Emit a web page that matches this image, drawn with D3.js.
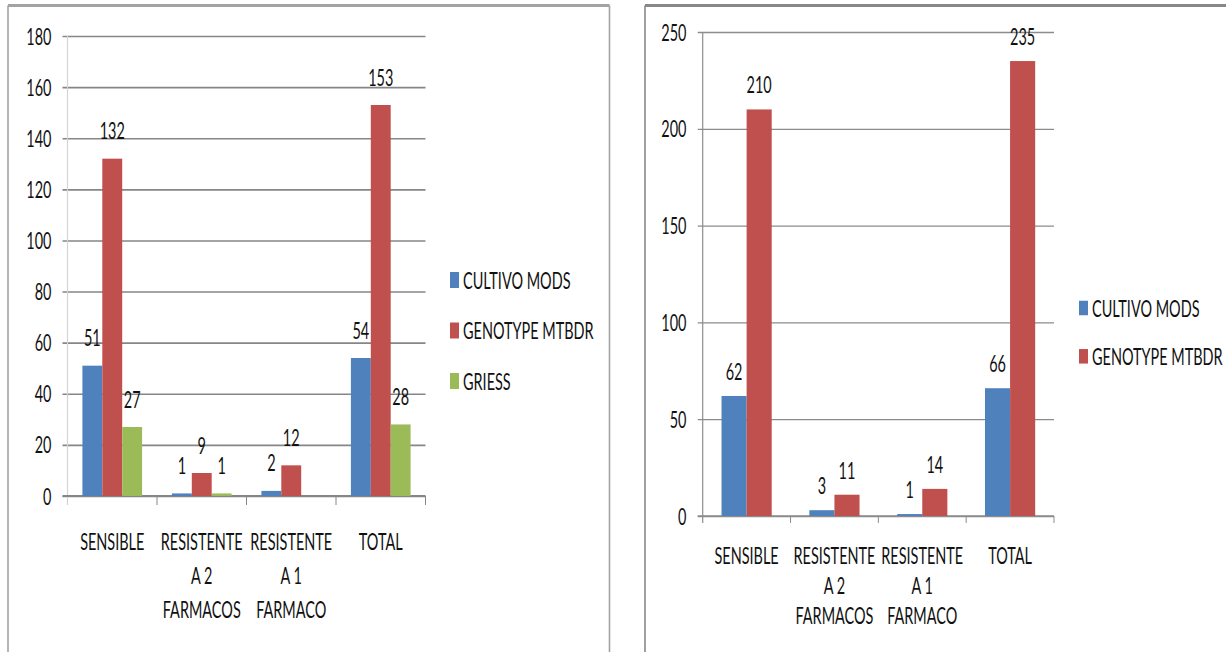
<!DOCTYPE html>
<html>
<head>
<meta charset="utf-8">
<script src="https://cdn.jsdelivr.net/npm/d3@7"></script>
<style>
  body { margin: 0; background: #fff; }
  svg text { font-family: Lato, "Open Sans", sans-serif; font-size: 23.5px; fill: #111; }
</style>
</head>
<body>
<svg id="chart" width="1226" height="652"></svg>
<script>
// Categories shared by both charts (line breaks mark label wrapping)
const categories = ["SENSIBLE", "RESISTENTE\nA 2\nFARMACOS", "RESISTENTE\nA 1\nFARMACO", "TOTAL"];

// Left chart: three methods
const leftSeries = ["CULTIVO MODS", "GENOTYPE MTBDR", "GRIESS"];
const leftCultivo = [51, 1, 2, 54];
const leftGenotype = [132, 9, 12, 153];
const leftGriess = [27, 1, null, 28];
const leftTicks = [0, 20, 40, 60, 80, 100, 120, 140, 160, 180];

// Right chart: two methods
const rightSeries = ["CULTIVO MODS", "GENOTYPE MTBDR"];
const rightCultivo = [62, 3, 1, 66];
const rightGenotype = [210, 11, 14, 235];
const rightTicks = [0, 50, 100, 150, 200, 250];

const seriesColors = ["#4F81BD", "#C0504D", "#9BBB59"];

// Narrow, tall lettering
const SX = 0.615;

const svg = d3.select("#chart");

function txt(g, x, y, s, anchor) {
  return g.append("text")
    .attr("transform", `translate(${x},${y}) scale(${SX},1)`)
    .attr("text-anchor", anchor)
    .text(s);
}

function drawChart(cfg) {
  const g = svg.append("g");

  // panel frame
  g.append("line").attr("x1", cfg.frame.x0).attr("x2", cfg.frame.x1)
    .attr("y1", cfg.frame.y0).attr("y2", cfg.frame.y0)
    .attr("stroke", cfg.frame.color).attr("stroke-width", 3);
  g.append("line").attr("x1", cfg.frame.x0).attr("x2", cfg.frame.x0)
    .attr("y1", cfg.frame.y0).attr("y2", 660)
    .attr("stroke", cfg.frame.color).attr("stroke-width", 1.6);
  if (cfg.frame.x1 < 1226) {
    g.append("line").attr("x1", cfg.frame.x1).attr("x2", cfg.frame.x1)
      .attr("y1", cfg.frame.y0).attr("y2", 660)
      .attr("stroke", cfg.frame.color).attr("stroke-width", 1.6);
  }

  const x = d3.scaleBand().domain(categories).range(cfg.xRange).paddingInner(0).paddingOuter(0);
  const y = d3.scaleLinear().domain([0, d3.max(cfg.ticks)]).range(cfg.yRange);

  const n = cfg.series.length;
  const barW = x.bandwidth() / (n + 1.5);
  const xs = d3.scaleBand().domain(cfg.series)
    .range([0.75 * barW, x.bandwidth() - 0.75 * barW]).padding(0);

  // gridlines + tick labels
  const gx0 = cfg.xRange[0] - 5;
  const yAxis = d3.axisLeft(y).tickValues(cfg.ticks)
    .tickSize(-(cfg.xRange[1] - gx0)).tickSizeOuter(0);
  const ag = g.append("g").attr("transform", `translate(${gx0},0)`).call(yAxis);
  ag.select(".domain").remove();
  ag.selectAll(".tick line").attr("stroke", cfg.gridColor).attr("stroke-width", cfg.gridWidth);
  ag.selectAll(".tick text")
    .attr("x", null).attr("dy", null)
    .attr("transform", `translate(${cfg.tickLabelRight - gx0},8) scale(${SX},1)`)
    .attr("text-anchor", "end").attr("fill", "#111");
  ag.attr("font-family", null).attr("font-size", null);

  // vertical value axis
  g.append("line").attr("x1", cfg.xRange[0]).attr("x2", cfg.xRange[0])
    .attr("y1", y(d3.max(cfg.ticks))).attr("y2", y(0) + cfg.tickDown)
    .attr("stroke", cfg.axisColor).attr("stroke-width", 1.2);

  // category axis line and boundary ticks
  g.append("line").attr("x1", gx0).attr("x2", cfg.xRange[1])
    .attr("y1", y(0)).attr("y2", y(0))
    .attr("stroke", cfg.gridColor).attr("stroke-width", cfg.gridWidth + 0.4);
  const bounds = categories.map(c => x(c)).concat([x(categories[categories.length - 1]) + x.bandwidth()]);
  g.selectAll(null).data(bounds.slice(1)).join("line")
    .attr("x1", d => d).attr("x2", d => d)
    .attr("y1", y(0)).attr("y2", y(0) + cfg.tickDown)
    .attr("stroke", cfg.gridColor).attr("stroke-width", 1);

  // bars with value labels
  cfg.series.forEach((s, si) => {
    const vals = cfg.values[si];
    const data = categories.map((c, i) => ({ c, v: vals[i] })).filter(d => d.v != null);
    g.selectAll(null).data(data).join("rect")
      .attr("x", d => x(d.c) + xs(s))
      .attr("y", d => y(d.v))
      .attr("width", xs.bandwidth())
      .attr("height", d => y(0) - y(d.v))
      .attr("fill", seriesColors[si]);
    data.forEach(d => {
      txt(g, x(d.c) + xs(s) + xs.bandwidth() / 2, y(d.v) - cfg.labelLift, String(d.v), "middle");
    });
  });

  // category labels
  categories.forEach(c => {
    c.split("\n").forEach((line, li) => {
      txt(g, x(c) + x.bandwidth() / 2, cfg.catY + li * cfg.catGap, line, "middle");
    });
  });

  // legend
  cfg.series.forEach((s, si) => {
    const cy = cfg.legend.y + si * cfg.legend.gap;
    g.append("rect").attr("x", cfg.legend.x).attr("y", cy - cfg.legend.h / 2)
      .attr("width", 9).attr("height", cfg.legend.h).attr("fill", seriesColors[si]);
    txt(g, cfg.legend.x + 13, cy + 8.5, s, "start");
  });
}

drawChart({
  series: leftSeries,
  values: [leftCultivo, leftGenotype, leftGriess],
  ticks: leftTicks,
  xRange: [67.5, 425.5],
  yRange: [496, 36],
  tickLabelRight: 51.5,
  tickDown: 9,
  gridColor: "#868686",
  gridWidth: 1.6,
  axisColor: "#d4d4d4",
  labelLift: 19.5,
  catY: 549.5,
  catGap: 34,
  legend: { x: 450, y: 280, gap: 50.5, h: 16 },
  frame: { x0: 8, x1: 609.5, y0: 5.5, color: "#a3a3a3" }
});

drawChart({
  series: rightSeries,
  values: [rightCultivo, rightGenotype],
  ticks: rightTicks,
  xRange: [702.7, 1054],
  yRange: [516, 32],
  tickLabelRight: 686.5,
  tickDown: 7,
  gridColor: "#8c8c8c",
  gridWidth: 1.3,
  axisColor: "#8c8c8c",
  labelLift: 16,
  catY: 563.5,
  catGap: 30,
  legend: { x: 1079, y: 308, gap: 48.3, h: 14.5 },
  frame: { x0: 645, x1: 1300, y0: 5.5, color: "#888888" }
});
</script>
</body>
</html>
